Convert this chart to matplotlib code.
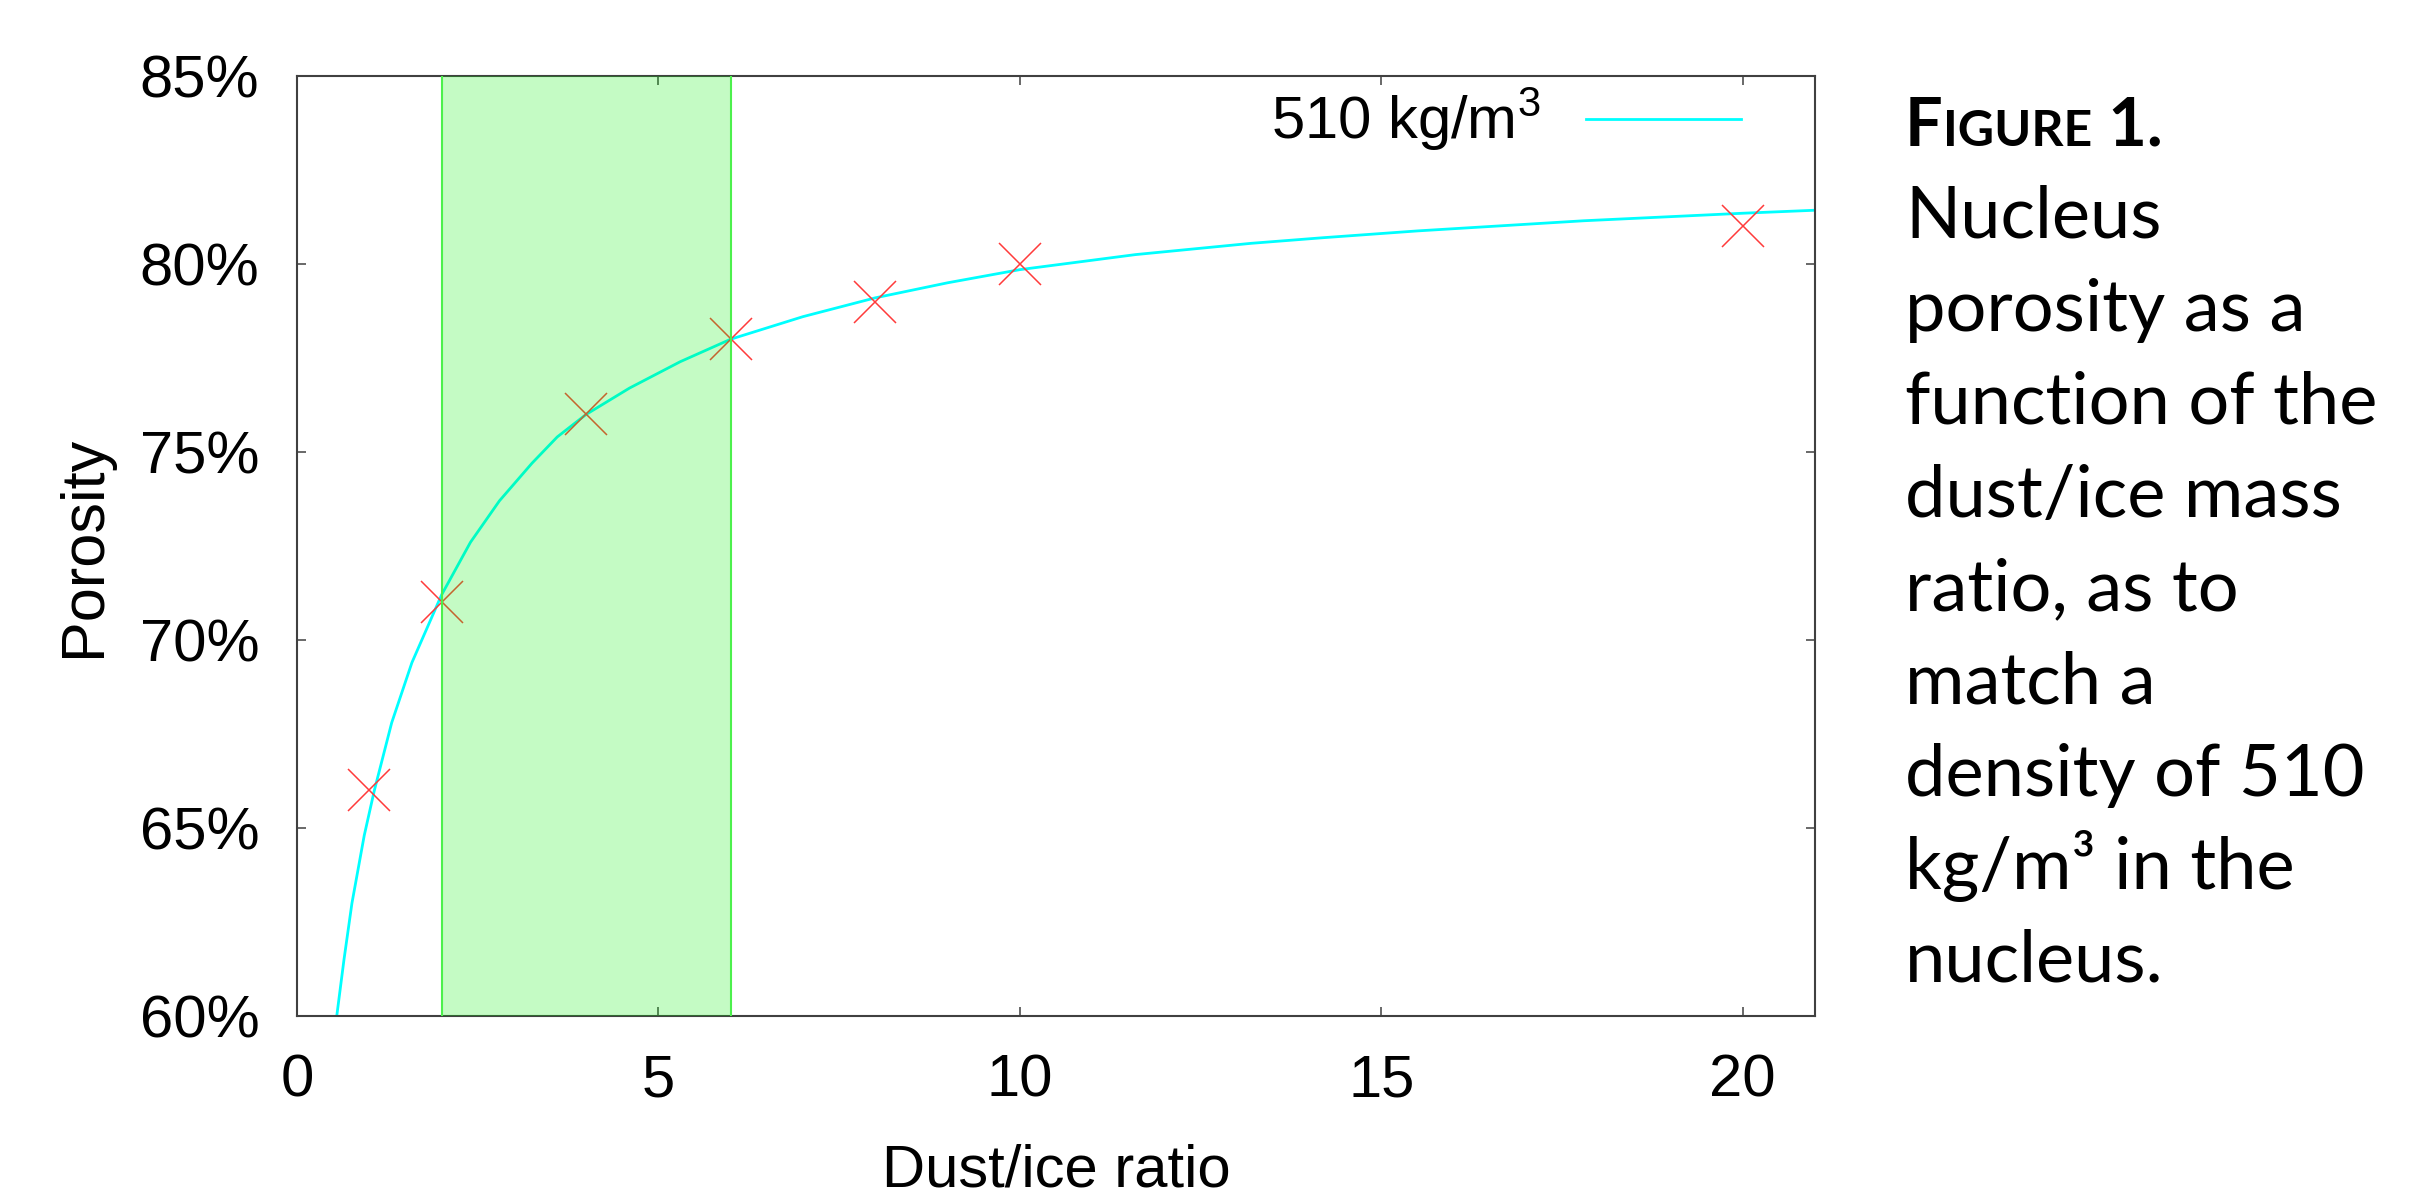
import matplotlib
matplotlib.use("Agg")
import matplotlib.pyplot as plt
from matplotlib.ticker import FuncFormatter

plt.rcParams['font.family'] = 'Liberation Sans'
plt.rcParams['mathtext.fontset'] = 'custom'
plt.rcParams['mathtext.rm'] = 'Liberation Sans'
plt.rcParams['mathtext.it'] = 'Liberation Sans:italic'

# measured points (dust/ice ratio, porosity in %)
ratio_pts = [1, 2, 4, 6, 8, 10, 20]
porosity_pts = [66, 71, 76, 78, 79, 80, 81]

# curve for 510 kg/m3
curve_x = [0.55, 0.65, 0.76, 0.93, 1.07, 1.31, 1.59, 2.0, 2.4, 2.8, 3.25, 3.6,
           4.0, 4.6, 5.3, 6.0, 7.0, 8.0, 9.0, 10.0, 11.6, 13.2, 14.2, 15.5,
           17.8, 20.0, 21.0]
curve_y = [60.0, 61.5, 63.0, 64.8, 66.0, 67.8, 69.4, 71.2, 72.6, 73.7, 74.7, 75.4,
           76.0, 76.7, 77.4, 78.0, 78.6, 79.1, 79.5, 79.85, 80.25, 80.55, 80.7, 80.88,
           81.15, 81.35, 81.43]

band = [2, 6]
x_ticks = [0, 5, 10, 15, 20]
y_ticks = [60, 65, 70, 75, 80, 85]

caption_lines = ["Nucleus", "porosity as a", "function of the", "dust/ice mass",
                 "ratio, as to", "match a", "density of 510", "kg/m³ in the",
                 "nucleus."]

W, H = 2412, 1198
fig = plt.figure(figsize=(W / 100, H / 100), dpi=100)
ax = fig.add_axes([297 / W, 1 - 1016 / H, (1815 - 297) / W, (1016 - 76) / H])

ax.plot(curve_x, curve_y, color='#00ffff', lw=2, label=r'510 kg/m$^3$', zorder=2)
ax.plot(ratio_pts, porosity_pts, 'x', ms=30, mew=1.1, color='#ff3b3b', zorder=3)
ax.axvspan(band[0], band[1], facecolor='#00f000', alpha=0.23, lw=0, zorder=4)
for b in band:
    ax.axvline(b, color='#4cf04c', lw=1.5, zorder=4)

ax.set_xlim(0, 21)
ax.set_ylim(60, 85)
ax.set_xticks(x_ticks)
ax.set_yticks(y_ticks)
ax.yaxis.set_major_formatter(FuncFormatter(lambda v, p: "%d%%" % v))

for s in ax.spines.values():
    s.set_color('#404040')
    s.set_linewidth(1.5)
ax.tick_params(direction='in', length=6.5, width=1.1, color='#404040',
               top=True, right=True, labelsize=43)
ax.tick_params(axis='x', pad=27)
ax.tick_params(axis='y', pad=27)

ax.set_xlabel("Dust/ice ratio", fontsize=43, labelpad=25)
ax.set_ylabel("Porosity", fontsize=44, labelpad=19)

ax.legend(loc='upper right', bbox_to_anchor=(0.9513, 0.989), markerfirst=False,
          frameon=False, fontsize=43, handlelength=2.6, handletextpad=0.75,
          borderaxespad=0, borderpad=0)

# caption on the right, "FIGURE 1." in small caps
renderer = fig.canvas.get_renderer()
x = 1905
for part, size in [('F', 48), ('IGURE', 36), (' 1.', 48)]:
    t = fig.text(x / W, 1 - 146 / H, part, fontsize=size, fontweight='bold',
                 family='Lato', va='baseline')
    x += t.get_window_extent(renderer).width

for i, line in enumerate(caption_lines):
    fig.text(1905 / W, 1 - (238 + i * 93) / H, line, fontsize=52,
             family='Lato', va='baseline')

fig.savefig('out.png', dpi=100)
